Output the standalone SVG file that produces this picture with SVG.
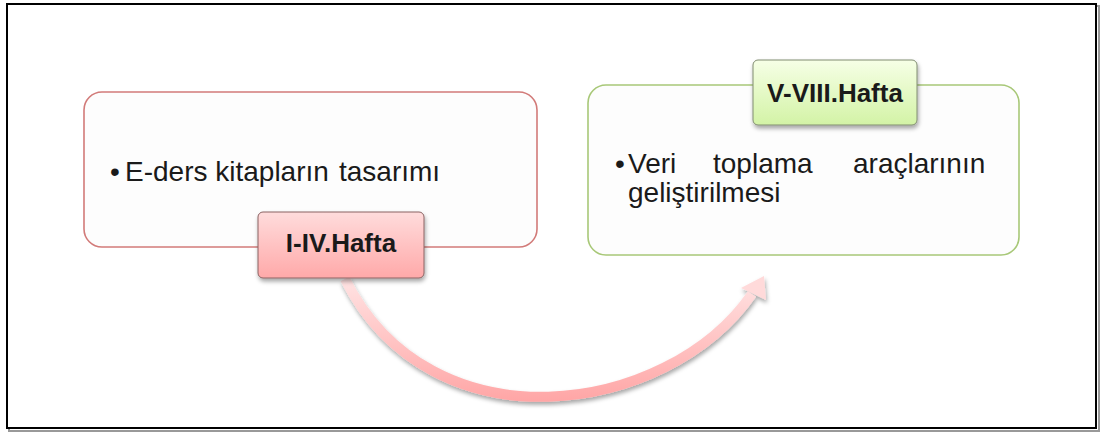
<svg xmlns="http://www.w3.org/2000/svg" width="1101" height="433" viewBox="0 0 1101 433">
<style>
.txt{font-family:"Liberation Sans",Arial,sans-serif;font-size:28px;fill:#1a1a1a}
.lbl{font-family:"Liberation Sans",Arial,sans-serif;font-size:26px;font-weight:bold;fill:#1a1a1a;text-anchor:middle}
.box{fill:#fdfdfd;stroke-width:1.6}
</style>
<defs>
<linearGradient id="gRed" x1="0" y1="0" x2="0" y2="1">
<stop offset="0" stop-color="#ffdcdc"/><stop offset="1" stop-color="#ffa9a9"/>
</linearGradient>
<linearGradient id="gGreen" x1="0" y1="0" x2="0" y2="1">
<stop offset="0" stop-color="#f6ffe6"/><stop offset="1" stop-color="#d3f3a6"/>
</linearGradient>
<linearGradient id="gArrow" gradientUnits="userSpaceOnUse" x1="0" y1="280" x2="0" y2="405">
<stop offset="0" stop-color="#ffe2e2"/><stop offset="1" stop-color="#ffa4a4"/>
</linearGradient>
<filter id="sh" x="-20%" y="-20%" width="140%" height="150%">
<feDropShadow dx="1" dy="3" stdDeviation="2" flood-color="#000" flood-opacity="0.35"/>
</filter>
</defs>
<rect x="9" y="6" width="1090" height="425" fill="none" stroke="#999" stroke-width="2"/>
<rect x="7" y="4" width="1089" height="424" fill="#fff" stroke="#000" stroke-width="2"/>
<g id="box1">
<rect class="box" x="84" y="92" width="453" height="155" rx="18" stroke="#d27b79"/>
<text class="txt" y="181"><tspan x="110">•</tspan><tspan x="125">E-ders kitapların</tspan><tspan x="339">tasarımı</tspan></text>
</g>
<g id="box2">
<rect class="box" x="588" y="85" width="431" height="170" rx="18" stroke="#a8c878"/>
<text class="txt" y="173"><tspan x="615">•</tspan><tspan x="628">Veri</tspan><tspan x="713">toplama</tspan><tspan x="853">araçlarının</tspan></text>
<text class="txt" x="628" y="202">geliştirilmesi</text>
</g>
<g id="connectors" filter="url(#sh)">
<path d="M345 279 C430.5 450 666.5 417 752 294" fill="none" stroke="url(#gArrow)" stroke-width="10"/>
<polygon points="764,276 741,288 766,300" fill="#ffdada"/>
</g>
<g id="label1">
<rect x="258" y="212" width="166" height="66" rx="5" fill="url(#gRed)" stroke="#8a6262" stroke-width="1" filter="url(#sh)"/>
<text class="lbl" x="341" y="252">I-IV.Hafta</text>
</g>
<g id="label2">
<rect x="753" y="60" width="164" height="65" rx="5" fill="url(#gGreen)" stroke="#808c70" stroke-width="1" filter="url(#sh)"/>
<text class="lbl" x="835" y="102">V-VIII.Hafta</text>
</g>
</svg>
